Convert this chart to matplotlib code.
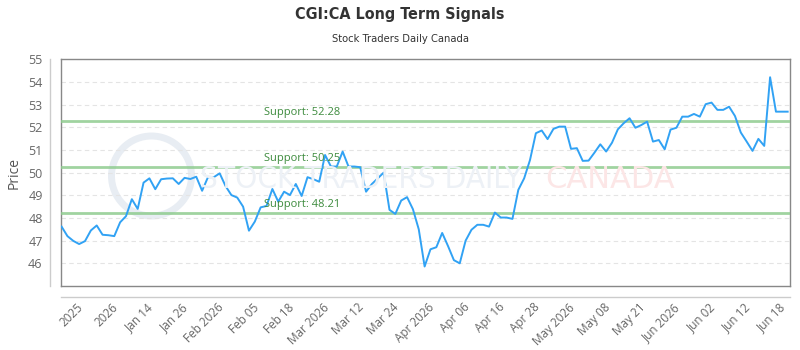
import matplotlib
matplotlib.use("Agg")
import matplotlib.pyplot as plt
from matplotlib import font_manager
from matplotlib.transforms import ScaledTranslation
from matplotlib.lines import Line2D
from matplotlib.patches import Ellipse

# ---------------- data ----------------
prices = [
    47.62, 47.20, 46.99, 46.85, 46.98, 47.45, 47.67, 47.26, 47.24, 47.20,
    47.81, 48.08, 48.83, 48.40, 49.56, 49.75, 49.27, 49.71, 49.74, 49.75,
    49.50, 49.77, 49.72, 49.82, 49.20, 49.80, 49.80, 49.97, 49.41, 49.01,
    48.90, 48.50, 47.44, 47.84, 48.47, 48.53, 49.28, 48.72, 49.16, 49.01,
    49.50, 48.97, 49.80, 49.71, 49.60, 50.78, 50.27, 50.27, 50.93, 50.27,
    50.27, 50.24, 49.16, 49.50, 49.75, 50.00, 48.36, 48.18, 48.77, 48.92,
    48.39, 47.50, 45.86, 46.62, 46.71, 47.34, 46.76, 46.14, 46.00, 47.00,
    47.48, 47.70, 47.70, 47.62, 48.24, 48.02, 48.02, 47.96, 49.24, 49.75,
    50.56, 51.74, 51.86, 51.48, 51.93, 52.03, 52.03, 51.05, 51.08, 50.52,
    50.53, 50.88, 51.25, 50.93, 51.32, 51.91, 52.18, 52.40, 51.98, 52.10,
    52.25, 51.37, 51.44, 51.03, 51.90, 51.98, 52.47, 52.47, 52.59, 52.47,
    53.02, 53.09, 52.77, 52.77, 52.91, 52.50, 51.77, 51.37, 50.96, 51.49,
    51.18, 54.21, 52.69, 52.69, 52.69,
]
tick_labels = ["2025", "2026", "Jan 14", "Jan 26", "Feb 2026", "Feb 05", "Feb 18",
               "Mar 2026", "Mar 12", "Mar 24", "Apr 2026", "Apr 06", "Apr 16",
               "Apr 28", "May 2026", "May 08", "May 21", "Jun 2026", "Jun 02",
               "Jun 12", "Jun 18"]
tick_positions = list(range(4, 125, 6))
supports = [52.28, 50.25, 48.21]
y_ticks = [46, 47, 48, 49, 50, 51, 52, 53, 54, 55]

title = "CGI:CA Long Term Signals"
subtitle = "Stock Traders Daily Canada"

# ---------------- fonts ----------------
fl = font_manager.fontManager.ttflist
names = {f.name for f in fl}
body = "Open Sans" if "Open Sans" in names else "DejaVu Sans"
narrow = "DejaVu Sans"
stretch = "condensed"

fig = plt.figure(figsize=(8, 3.5), dpi=100)
W, H = 800, 350
L, R, T, B = 60.7, 790, 59.3, 286
ax = fig.add_axes([L / W, 1 - B / H, (R - L) / W, (B - T) / H])

# watermark (background logo)
fig.add_artist(Ellipse((151.5 / W, 1 - 176 / H), 80 / W, 80 / H, transform=fig.transFigure,
                       fill=False, edgecolor="#e8edf3", lw=5, zorder=0))
fig.text(200 / W, 1 - 179 / H, "STOCK TRADERS DAILY", family=narrow, fontstretch=stretch,
         fontsize=22.5, color="#edf1f6", ha="left", va="center", zorder=0)
fig.text(545 / W, 1 - 180 / H, "CANADA", family=narrow, fontsize=22,
         color="#fce6e6", ha="left", va="center", zorder=0)
ax.patch.set_alpha(0)

x = list(range(len(prices)))
ax.plot(x, prices, color="#31a2f4", lw=1.4, zorder=4)

for s in supports:
    ax.axhline(s, color="#8fcc8f", lw=2, alpha=0.85, zorder=3)
    ax.annotate(f"Support: {s:.2f}", xy=(264 / W, s), xycoords=("figure fraction", "data"),
                xytext=(0, 2), textcoords="offset points", ha="left", va="bottom",
                color="#3d8b3d", fontsize=8, family=body, zorder=5)

ax.set_xlim(-0.15, 124.4)
ax.set_ylim(45, 55)
ax.set_yticks(y_ticks)
ax.set_yticklabels([str(v) for v in y_ticks])
ax.set_xticks(tick_positions)
ax.set_xticklabels(tick_labels)
ax.grid(axis="y", color="#e4e4e4", lw=0.8, ls=(0, (4, 3)))
ax.set_axisbelow(True)

ax.tick_params(axis="y", length=0, pad=13, labelsize=9, labelcolor="#666666")
ax.tick_params(axis="x", length=0, pad=14, labelsize=8.5, labelcolor="#666666")
for lab in ax.get_yticklabels():
    lab.set_family(body)
off = ScaledTranslation(-4 / 100, 0, fig.dpi_scale_trans)
for lab in ax.get_xticklabels():
    lab.set_family(body)
    lab.set_rotation(45)
    lab.set_ha("right")
    lab.set_va("center")
    lab.set_rotation_mode("anchor")
    lab.set_transform(lab.get_transform() + off)

for sp in ax.spines.values():
    sp.set_color("#888888")
    sp.set_linewidth(1)

ax.set_ylabel("Price", family=body, fontsize=10, color="#555555")
ax.yaxis.set_label_coords(22 / W, 1 - (T + B) / 2 / H, transform=fig.transFigure)

# offset axis lines
fig.add_artist(Line2D([50 / W, 50 / W], [1 - T / H, 1 - B / H], color="#cccccc", lw=1))
fig.add_artist(Line2D([L / W, R / W], [1 - 296.7 / H, 1 - 296.7 / H], color="#cccccc", lw=1))

fig.text(0.5, 1 - 15 / H, title, family=narrow, fontstretch=stretch,
         fontsize=11.5, weight="bold", color="#333333", ha="center", va="center")
fig.text(0.5, 1 - 39 / H, subtitle, family=narrow, fontstretch=stretch,
         fontsize=8, color="#333333", ha="center", va="center")

fig.savefig("out.png", dpi=100)
